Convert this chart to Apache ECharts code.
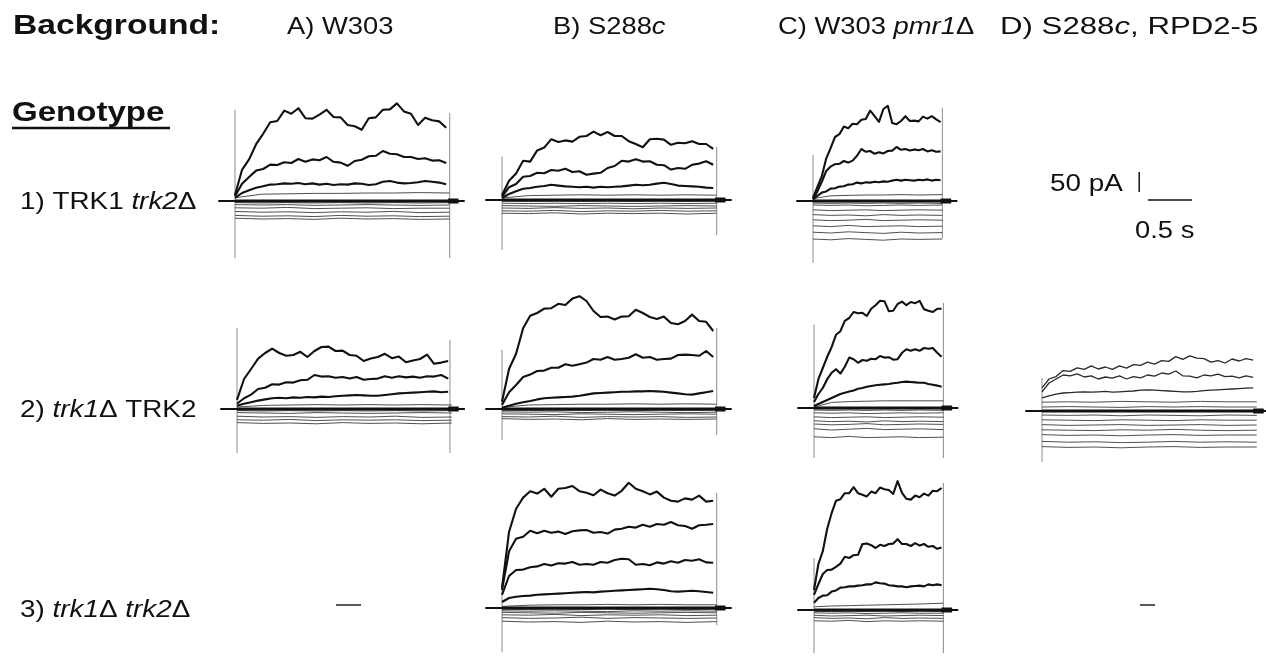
<!DOCTYPE html>
<html>
<head>
<meta charset="utf-8">
<script src="https://cdn.jsdelivr.net/npm/echarts@6/dist/echarts.min.js"></script>
<style>
html, body { margin: 0; background: #fff; }
#chart { width: 1266px; height: 656px; }
</style>
</head>
<body>
<div id="chart"></div>
<script>
// time grids (s)
const tLong = [0,0.08,0.16,0.24,0.32,0.40,0.48,0.56,0.64,0.72,0.80,0.88,0.96,1.04,1.12,1.20,1.28,1.36,1.44,1.52,1.60,1.68,1.76,1.84,1.92,2.00,2.08,2.16,2.24,2.32,2.40]
const tShort = [0,0.05,0.10,0.15,0.20,0.25,0.30,0.35,0.40,0.45,0.50,0.55,0.60,0.65,0.70,0.75,0.80,0.85,0.90,0.95,1.00,1.05,1.10,1.15,1.20,1.25,1.30,1.35,1.40,1.45]
const sLong = [0,0.3,0.6,0.9,1.2,1.5,1.8,2.1,2.44]
const sShort = [0,0.2,0.4,0.6,0.8,1.0,1.2,1.47]

// currents (pA) -- row 1
const a1Top = [15,78,104,142,168,197,200,226,218,232,207,206,216,228,210,209,190,187,178,207,209,228,229,244,224,218,190,208,202,199,183]
const a1Mid = [12,43,60,76,80,91,90,97,95,105,98,104,102,110,98,96,88,100,103,112,113,125,118,117,110,110,105,107,101,102,95]
const a1Low = [8,20,27,33,37,41,42,44,43,45,42,44,41,43,40,42,41,44,43,40,42,48,50,46,44,45,47,50,48,46,42]
const a1Small = [[8,17,18,19,19,20,20,21,20],[-4,-5,-4,-5,-4,-5,-4,-5,-4],[-9,-10,-9,-11,-10,-9,-10,-11,-10],[-17,-18,-16,-19,-18,-17,-19,-18,-18],[-26,-28,-27,-29,-27,-28,-26,-29,-28],[-36,-38,-37,-39,-36,-38,-37,-39,-38],[-43,-45,-44,-46,-43,-45,-44,-46,-45]]
const a1Art = [[228,-143],[220,-143]]

const b1Top = [12,48,66,98,96,124,131,152,145,149,146,158,160,171,162,170,160,160,147,140,132,152,153,151,138,143,142,147,140,140,128]
const b1Mid = [8,32,40,58,60,68,67,75,73,78,70,72,63,66,68,80,85,98,96,102,96,97,88,87,76,80,78,88,91,97,88]
const b1Low = [5,15,22,28,30,33,35,38,36,34,33,32,33,31,33,32,33,34,36,38,37,38,41,43,40,36,35,34,33,31,30]
const b1Small = [[5,11,12,13,12,13,12,13,12],[-3,-4,-3,-4,-3,-4,-3,-4,-3],[-8,-9,-8,-9,-8,-9,-8,-9,-8],[-14,-15,-16,-14,-15,-16,-15,-14,-15],[-20,-21,-19,-21,-20,-22,-20,-21,-20],[-27,-28,-26,-29,-27,-28,-26,-28,-27],[-33,-34,-32,-35,-33,-34,-33,-35,-33]]
const b1Art = [[108,-125],[133,-88]]

const c1Top = [8,35,62,106,132,160,167,186,182,193,192,203,205,226,212,198,230,238,195,192,200,212,200,201,199,211,206,212,204,197]
const c1Mid = [5,24,48,75,86,92,93,100,96,101,113,130,123,125,118,122,119,125,126,135,128,130,126,129,127,130,124,127,123,124]
const c1Low = [3,13,21,24,31,32,36,37,41,42,46,44,47,46,48,47,49,48,51,53,51,53,52,51,53,52,54,51,53,52]
const c1Small = [[6,13,14,15,15,16,15,16],[-5,-6,-5,-6,-5,-6,-5,-6],[-10,-11,-10,-12,-11,-10,-11,-10],[-22,-24,-23,-22,-24,-23,-22,-23],[-34,-36,-35,-37,-34,-36,-35,-36],[-47,-49,-48,-46,-49,-48,-47,-48],[-62,-64,-61,-64,-63,-62,-64,-63],[-78,-80,-77,-79,-81,-78,-80,-79],[-95,-97,-94,-96,-98,-95,-96,-95]]
const c1Art = [[115,-155],[233,-93]]

// row 2
const a2Top = [23,75,100,126,140,151,140,133,135,143,130,145,155,156,145,146,135,133,120,126,130,138,127,131,117,121,125,136,113,116,120]
const a2Mid = [13,27,36,50,53,62,61,67,66,72,73,85,81,82,78,80,76,80,73,75,76,82,78,82,79,81,78,82,81,85,76]
const a2Low = [8,13,17,21,24,27,28,27,29,28,30,29,31,30,32,33,34,35,34,33,33,35,37,39,40,41,42,43,44,42,43]
const a2Small = [[5,9,10,11,10,11,10,11,10],[-4,-5,-4,-5,-4,-5,-4,-5,-4],[-9,-10,-11,-9,-10,-11,-10,-9,-10],[-18,-20,-19,-21,-19,-20,-18,-21,-20],[-27,-28,-26,-29,-27,-28,-27,-29,-28],[-34,-36,-35,-37,-34,-36,-35,-37,-35]]
const a2Art = [[203,-110],[173,-110]]

const b2Top = [18,100,138,202,233,240,251,252,263,260,276,282,270,245,230,231,224,231,232,248,240,230,225,231,215,212,220,236,220,218,195]
const b2Mid = [10,42,60,80,86,95,96,103,103,112,108,112,116,125,123,130,123,125,128,137,128,130,123,125,126,135,136,135,133,145,130]
const b2Low = [3,8,13,17,20,24,27,28,29,30,31,33,36,39,40,41,42,43,43,44,44,45,44,43,41,39,37,36,39,42,45]
const b2Small = [[4,10,11,12,12,13,12,13,12],[-3,-4,-3,-4,-3,-4,-3,-4,-3],[-7,-8,-7,-9,-8,-7,-8,-9,-8],[-12,-13,-14,-12,-13,-14,-13,-12,-13],[-19,-20,-18,-21,-19,-20,-19,-21,-20],[-24,-26,-25,-27,-24,-26,-25,-26,-25]]
const b2Art = [[148,-78],[203,-65]]

const c2Top = [25,72,100,128,152,183,192,218,225,240,237,238,230,248,257,268,267,242,243,260,266,257,265,262,268,247,243,240,248,248]
const c2Mid = [15,35,50,72,88,97,86,103,126,122,113,120,118,123,122,130,126,127,121,122,138,147,143,147,143,150,148,150,138,128]
const c2Low = [5,10,15,20,25,30,35,38,41,44,48,50,53,55,57,58,59,60,62,63,65,66,65,64,63,63,60,58,56,53]
const c2Small = [[2,14,16,17,18,18,18,18],[-5,-6,-5,-6,-5,-6,-5,-6],[-12,-13,-12,-14,-13,-12,-13,-12],[-22,-24,-23,-22,-24,-23,-22,-23],[-32,-34,-33,-35,-32,-34,-33,-34],[-40,-42,-41,-39,-42,-41,-40,-41],[-52,-55,-53,-51,-54,-53,-52,-54],[-72,-74,-71,-74,-73,-72,-74,-73]]
const c2Art = [[208,-125],[263,-125]]

const d2Top = [58,80,86,101,99,108,104,113,105,110,104,113,107,116,114,122,117,126,124,136,129,138,132,131,122,126,120,130,125,131,127]
const d2Mid = [48,70,80,90,88,93,85,88,80,85,82,88,80,86,83,90,87,95,92,100,88,87,83,90,88,92,86,87,83,88,84]
const d2Low = [33,38,42,45,46,47,48,47,48,49,47,48,49,50,52,53,52,51,50,49,48,48,49,51,52,53,54,55,56,57,58]
const d2Small = [[22,23,22,24,23,22,24,23,23],[10,11,10,9,11,10,11,10,10],[-10,-11,-10,-12,-10,-11,-12,-10,-11],[-22,-23,-24,-22,-23,-24,-22,-23,-23],[-34,-36,-35,-34,-36,-35,-34,-36,-35],[-47,-48,-49,-47,-48,-46,-48,-49,-48],[-59,-61,-60,-62,-60,-59,-61,-60,-60],[-76,-78,-77,-79,-78,-76,-78,-77,-78],[-89,-91,-90,-92,-90,-89,-91,-90,-90]]
const d2Art = [[83,-128],null]

// row 3
const b3Top = [50,190,248,276,292,286,298,278,298,300,305,292,288,282,296,287,281,293,313,298,292,284,291,276,268,266,274,271,281,266,268]
const b3Mid = [45,142,173,178,193,187,193,188,191,185,192,194,195,188,190,186,196,198,203,201,208,203,210,208,215,207,205,198,207,208,210]
const b3Low = [33,80,95,96,102,104,110,106,112,111,115,108,110,108,115,113,120,123,122,108,110,107,114,111,117,113,120,118,122,114,113]
const b3Fourth = [15,25,28,30,31,33,34,35,36,37,38,39,40,39,41,42,43,44,45,46,47,48,47,45,42,41,42,43,42,40,38]
const b3Small = [[4,7,8,8,9,8,9,8,8],[-3,-4,-3,-4,-3,-4,-3,-4,-3],[-7,-8,-7,-8,-9,-7,-8,-7,-8],[-11,-12,-13,-11,-12,-13,-12,-11,-12],[-17,-18,-16,-19,-17,-18,-17,-19,-18],[-24,-26,-25,-23,-26,-24,-25,-26,-25],[-33,-35,-34,-36,-33,-35,-34,-36,-34]]
const b3Art = [[62,-110],[288,-43]]

const c3Top = [50,115,147,203,242,273,277,292,292,307,292,288,284,296,292,306,302,300,290,322,293,278,276,286,282,291,286,298,297,305]
const c3Mid = [38,65,90,100,101,108,116,133,130,137,138,165,166,162,155,163,160,165,166,177,165,165,160,167,161,165,158,160,153,156]
const c3Low = [18,30,36,37,46,49,56,57,59,59,61,62,64,64,69,67,66,62,61,59,59,57,59,60,61,59,64,62,64,62]
const c3Small = [[8,10,11,12,13,14,15,17],[-3,-4,-3,-4,-3,-4,-3,-4],[-7,-8,-7,-9,-8,-7,-8,-8],[-13,-15,-14,-13,-15,-14,-13,-14],[-19,-21,-20,-22,-19,-21,-20,-21],[-27,-28,-26,-29,-27,-28,-27,-28]]
const c3Art = [[130,-108],[318,-108]]

// scale bar
const scaleBarPA = 50
const scaleBarS = 0.5

// layout: every panel shares the same px-per-unit scale
const PX_PER_S = 88, PX_PER_PA = 0.4
const T_MIN = -0.3, T_MAX = 2.7, I_MIN = -170, I_MAX = 330
const HOLD = -0.19, TAIL = 0.17
const FONT = 'Liberation Sans, Arial, sans-serif'

const panels = [
  { x0: 235, y0: 201, end: 2.44, t: tLong, s: sLong, main: [a1Top, a1Mid, a1Low], small: a1Small, art: a1Art },
  { x0: 502, y0: 200, end: 2.44, t: tLong, s: sLong, main: [b1Top, b1Mid, b1Low], small: b1Small, art: b1Art },
  { x0: 813, y0: 201, end: 1.47, t: tShort, s: sShort, main: [c1Top, c1Mid, c1Low], small: c1Small, art: c1Art },
  { x0: 237, y0: 409, end: 2.42, t: tLong, s: sLong, main: [a2Top, a2Mid, a2Low], small: a2Small, art: a2Art },
  { x0: 502, y0: 409, end: 2.44, t: tLong, s: sLong, main: [b2Top, b2Mid, b2Low], small: b2Small, art: b2Art },
  { x0: 814, y0: 408, end: 1.47, t: tShort, s: sShort, main: [c2Top, c2Mid, c2Low], small: c2Small, art: c2Art },
  { x0: 1042, y0: 411, end: 2.42, t: tLong, s: sLong, main: [d2Top, d2Mid, d2Low], small: d2Small, art: d2Art, thin: true },
  { x0: 502, y0: 608, end: 2.44, t: tLong, s: sLong, main: [b3Top, b3Mid, b3Low, b3Fourth], small: b3Small, art: b3Art },
  { x0: 814, y0: 610, end: 1.47, t: tShort, s: sShort, main: [c3Top, c3Mid, c3Low], small: c3Small, art: c3Art },
]

function zip(xs, ys) {
  const n = Math.min(xs.length, ys.length)
  const out = []
  for (let i = 0; i < n; i++) out.push([xs[i], ys[i]])
  return out
}

function line(gi, data, color, width, z) {
  return {
    type: 'line', xAxisIndex: gi, yAxisIndex: gi, data,
    symbol: 'none', silent: true, z: z || 2,
    lineStyle: { color, width, cap: 'butt', join: 'round' },
  }
}

const grids = [], xAxes = [], yAxes = [], series = []

function addGrid(x0, y0) {
  const gi = grids.length
  grids.push({
    left: x0 + T_MIN * PX_PER_S,
    top: y0 - I_MAX * PX_PER_PA,
    width: (T_MAX - T_MIN) * PX_PER_S,
    height: (I_MAX - I_MIN) * PX_PER_PA,
    // v6 squeezes grids into the canvas by default; these overhang on purpose
    outerBoundsMode: 'none',
    containLabel: false,
  })
  xAxes.push({ gridIndex: gi, type: 'value', min: T_MIN, max: T_MAX, show: false })
  yAxes.push({ gridIndex: gi, type: 'value', min: I_MIN, max: I_MAX, show: false })
  return gi
}

panels.forEach(p => {
  const gi = addGrid(p.x0, p.y0)
  // capacitive artifacts at pulse on/off
  if (p.art[0]) series.push(line(gi, [[0, p.art[0][0]], [0, p.art[0][1]]], '#8c8c8c', 1, 1))
  if (p.art[1]) series.push(line(gi, [[p.end, p.art[1][0]], [p.end, p.art[1][1]]], '#8c8c8c', 1, 1))
  // small / inward traces
  p.small.forEach(ys => series.push(line(gi, zip(p.s, ys), '#3c3c3c', 0.9, 2)))
  // holding level, dense band and tail
  series.push(line(gi, [[HOLD, 0], [p.end + TAIL, 0]], '#111', 1.8, 3))
  series.push(line(gi, [[0, 0], [p.end, 0]], '#111', 3.2, 3))
  series.push(line(gi, [[p.end - 0.02, 0], [p.end + 0.1, 0]], '#111', 5, 3))
  // outward current traces
  p.main.forEach(ys => series.push(line(gi, zip(p.t, ys), p.thin ? '#2a2a2a' : '#111', p.thin ? 1.3 : 2.1, 4)))
})

// scale bar
const sb = addGrid(1148, 200)
series.push(line(sb, [[-0.1, 20], [-0.1, 20 + scaleBarPA]], '#111', 1.5, 3))
series.push(line(sb, [[0, 0], [scaleBarS, 0]], '#111', 1.5, 3))

function label(x, y, text, size, bold, sx) {
  const base = { fontSize: size, fontFamily: FONT, fontWeight: bold ? 'bold' : 'normal', fill: '#111' }
  return {
    type: 'text', x, y, scaleX: sx, silent: true,
    style: Object.assign({}, base, {
      text, verticalAlign: 'middle', align: 'left',
      rich: { n: base, i: Object.assign({}, base, { fontStyle: 'italic' }) },
    }),
  }
}

const graphic = [
  label(13, 26, '{n|Background:}', 28, true, 1.2),
  label(287, 27, '{n|A) W303}', 24, false, 1.14),
  label(553, 27, '{n|B) S288}{i|c}', 24, false, 1.14),
  label(778, 27, '{n|C) W303 }{i|pmr1}{n|Δ}', 24, false, 1.14),
  label(1000, 27, '{n|D) S288}{i|c}{n|, RPD2-5}', 24, false, 1.3),
  label(12, 113, '{n|Genotype}', 28, true, 1.18),
  { type: 'line', silent: true, shape: { x1: 12, y1: 128, x2: 170, y2: 128 }, style: { stroke: '#111', lineWidth: 2.5 } },
  label(20, 202, '{n|1) TRK1 }{i|trk2}{n|Δ}', 24, false, 1.16),
  label(20, 410, '{n|2) }{i|trk1}{n|Δ TRK2}', 24, false, 1.16),
  label(20, 610, '{n|3) }{i|trk1}{n|Δ }{i|trk2}{n|Δ}', 24, false, 1.16),
  label(1050, 184, '{n|50 pA}', 24, false, 1.16),
  label(1135, 231, '{n|0.5 s}', 24, false, 1.14),
  { type: 'line', silent: true, shape: { x1: 336, y1: 605, x2: 361, y2: 605 }, style: { stroke: '#222', lineWidth: 1.5 } },
  { type: 'line', silent: true, shape: { x1: 1140, y1: 605, x2: 1155, y2: 605 }, style: { stroke: '#222', lineWidth: 1.5 } },
]

const chart = echarts.init(document.getElementById('chart'))
chart.setOption({
  backgroundColor: '#fff',
  animation: false,
  grid: grids,
  xAxis: xAxes,
  yAxis: yAxes,
  series,
  graphic,
})
</script>
</body>
</html>
